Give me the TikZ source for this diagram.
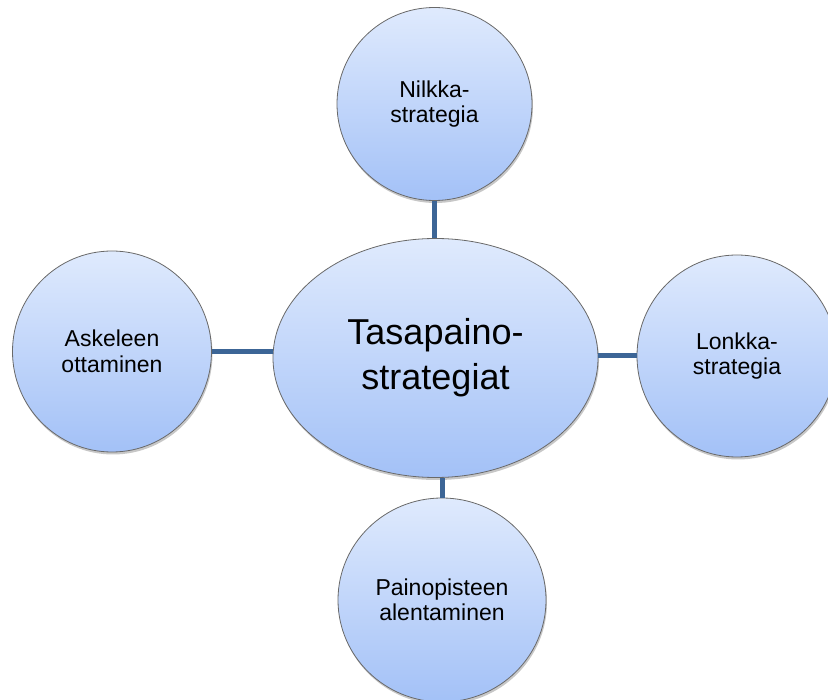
\documentclass[tikz,border=0pt]{standalone}
\usepackage{fontspec}
\setmainfont{Liberation Sans}
\usetikzlibrary{shapes.geometric,shadows}
\definecolor{fillTop}{RGB}{223,234,253}
\definecolor{fillBot}{RGB}{163,193,247}
\definecolor{edgeGray}{RGB}{105,105,105}
\definecolor{linkBlue}{RGB}{60,101,150}
\tikzset{
  bubble/.style={ellipse, inner sep=0pt, draw=edgeGray, line width=0.8pt,
    top color=fillTop, bottom color=fillBot, align=center,
    font=\fontsize{23}{25.5}\selectfont,
    drop shadow={shadow xshift=1pt, shadow yshift=-2.5pt, opacity=0.22, fill=black}},
  link/.style={draw=linkBlue, line width=5pt}
}
\begin{document}
\begin{tikzpicture}[x=1pt,y=-1pt]
\useasboundingbox (0,0) rectangle (828,700);
\fill[white] (0,0) rectangle (828,700);
\clip (0,0) rectangle (828,700);
\node[bubble, minimum width=325pt, minimum height=239pt, font=\fontsize{36}{45}\selectfont] (T) at (435.5,358) {Tasapaino-\\strategiat};
\node[bubble, minimum width=195pt, minimum height=193pt] (N) at (434.5,104) {Nilkka-\\strategia};
\node[bubble, minimum width=199pt, minimum height=201pt] (A) at (112,351.5) {Askeleen\\ottaminen};
\node[bubble, minimum width=200pt, minimum height=202pt] (L) at (737,356) {Lonkka-\\strategia};
\node[bubble, minimum width=208pt, minimum height=204pt] (P) at (442,600) {Painopisteen\\alentaminen};
\draw[link] (N.south) -- (N.south |- T.north);
\draw[link] (A.east) -- (A.east -| T.west);
\draw[link] (L.west) -- (L.west -| T.east);
\draw[link] (P.north) -- (P.north |- T.south);
\end{tikzpicture}
\end{document}
